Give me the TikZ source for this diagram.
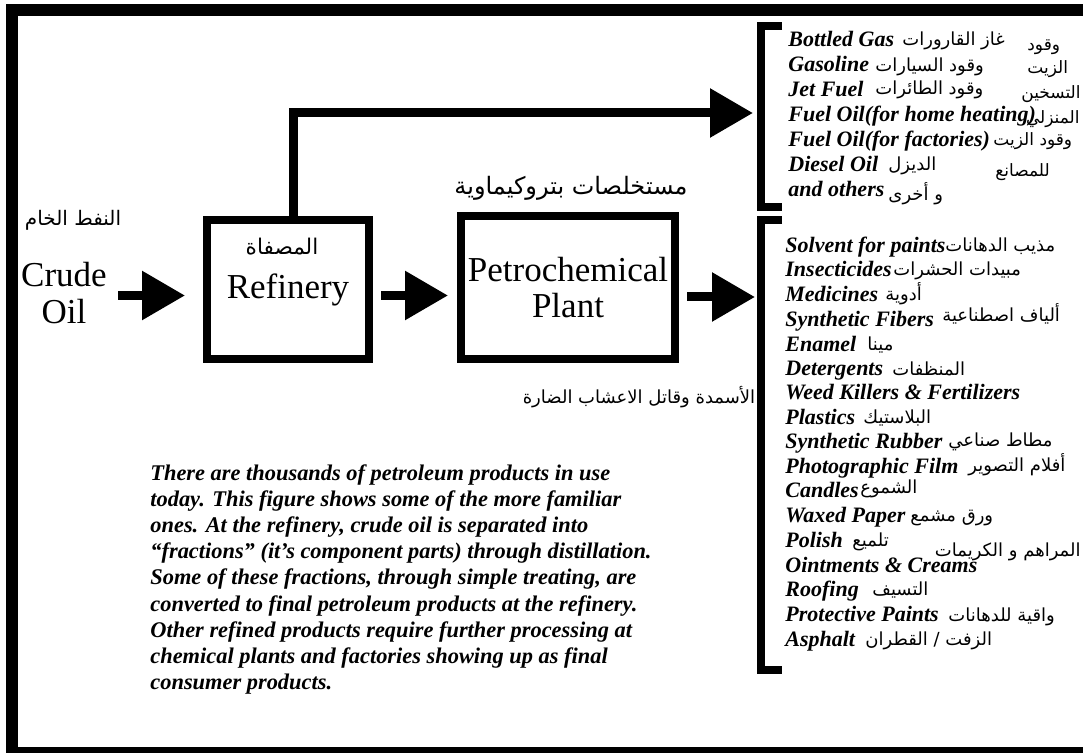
\documentclass[tikz,border=0pt]{standalone}
\usepackage{fontspec}
\setmainfont{Liberation Serif}
\newfontfamily\arabicfont[Script=Arabic]{DejaVu Sans}
\TeXXeTstate=1
\usetikzlibrary{arrows.meta,positioning,calc}
\newcommand{\artxt}[1]{{\arabicfont\beginR #1\endR}}

\begin{document}
\begin{tikzpicture}[x=0.5pt,y=-0.5pt,
  box/.style={draw,line width=4pt,inner sep=0pt,align=center,font=\fontsize{17.5}{18}\selectfont},
  big/.style={align=center,inner sep=0pt,font=\fontsize{17.5}{18.5}\selectfont},
  artag/.style={inner sep=0pt,font=\fontsize{12}{14}\selectfont},
  aritem/.style={inner sep=0pt,anchor=base west,yshift=-2pt,font=\fontsize{9}{10}\selectfont},
  item/.style={inner sep=0pt,anchor=base west,yshift=-2.5pt,font=\bfseries\itshape\fontsize{11}{12}\selectfont},
  fat/.style={line width=4.5pt,-{Triangle[length=21.5pt,width=23.5pt]}},
  brack/.style={line width=4pt,line cap=butt,line join=miter}]
  \useasboundingbox (0,0) rectangle (1083,753);
  % outer frame
  \draw[line width=6pt] (12,10.5) rectangle (1089,753);
  % process chain
  \node[big] (crude) at (64,293.5) {Crude\\Oil};
  \node[artag,font=\fontsize{10}{12}\selectfont] (crudear) at (73,220) {\artxt{النفط الخام}};
  \node[box,minimum width=81pt,minimum height=69.5pt] (refinery) at (288,289.5) {Refinery};
  \node[artag,font=\fontsize{10.8}{12}\selectfont] (refar) at (282,247) {\artxt{المصفاة}};
  \node[box,minimum width=107pt,minimum height=71.5pt] (petro) at (568,287.5) {Petrochemical\\Plant};
  \node[artag] (petroar) at (571,188) {\artxt{مستخلصات بتروكيماوية}};
  \node[artag,font=\fontsize{9}{10}\selectfont] (fertar) at (639,397) {\artxt{الأسمدة وقاتل الاعشاب الضارة}};
  % brackets round the two product lists
  \draw[brack] (782,26) -| (761,207.5) -- (782,207.5);
  \coordinate (fuels) at (757,113);
  \draw[brack] (782,220) -| (761,670) -- (782,670);
  \coordinate (chems) at (757,297);
  % flow arrows
  \draw[fat,shorten <=5.5pt,shorten >=9pt] ([yshift=-1pt]crude.east) -- ([yshift=-1pt]crude.east -| refinery.west);
  \draw[fat,shorten <=4pt,shorten >=4.5pt] ([yshift=-3pt]refinery.east) -- ([yshift=-3pt]refinery.east -| petro.west);
  \draw[fat,shorten <=4pt,shorten >=1pt] (chems -| petro.east) -- (chems);
  \draw[fat,line join=miter,shorten >=2pt] ([xshift=2.5pt]refinery.north) |- (fuels);
  % fuels from the refinery
  \node[item] (gas) at (788,42) {Bottled Gas};
  \node[item] (gasoline) at (788,67) {Gasoline};
  \node[item] (jet) at (788,92) {Jet Fuel};
  \node[item] (fuelhome) at (788,117) {Fuel Oil(for home heating)};
  \node[item] (fuelfact) at (788,142) {Fuel Oil(for factories)};
  \node[item] (diesel) at (788,167) {Diesel Oil};
  \node[item] (others) at (788,192) {and others};
  \node[aritem] (gasar) at (902,42) {\artxt{غاز القارورات}};
  \node[aritem] (gasolinear) at (875,68) {\artxt{وقود السيارات}};
  \node[aritem] (jetar) at (875,91) {\artxt{وقود الطائرات}};
  \node[aritem] (dieselar) at (888,167) {\artxt{الديزل}};
  \node[aritem] (othersar) at (888,197) {\artxt{و أخرى}};
  \node[aritem,font=\fontsize{8.5}{10}\selectfont] (homear1) at (1027,47) {\artxt{وقود}};
  \node[aritem,font=\fontsize{8.5}{10}\selectfont] (homear2) at (1027,70) {\artxt{الزيت}};
  \node[aritem,anchor=base east,font=\fontsize{8.5}{10}\selectfont] (homear3) at (1081,95) {\artxt{التسخين}};
  \node[aritem,anchor=base east,font=\fontsize{8.5}{10}\selectfont] (homear4) at (1080,120) {\artxt{المنزلي}};
  \node[aritem,font=\fontsize{8.5}{10}\selectfont] (factar1) at (993,142) {\artxt{وقود الزيت}};
  \node[aritem,font=\fontsize{8.5}{10}\selectfont] (factar2) at (995,173) {\artxt{للمصانع}};
  % petrochemical products
  \node[item] (solvent) at (785,248) {Solvent for paints};
  \node[item] (insect) at (785,272) {Insecticides};
  \node[item] (medic) at (785,297) {Medicines};
  \node[item] (fibers) at (785,322) {Synthetic Fibers};
  \node[item] (enamel) at (785,347) {Enamel};
  \node[item] (deterg) at (785,371) {Detergents};
  \node[item] (weed) at (785,395) {Weed Killers \& Fertilizers};
  \node[item] (plastic) at (785,420) {Plastics};
  \node[item] (rubber) at (785,444) {Synthetic Rubber};
  \node[item] (photo) at (785,469) {Photographic Film};
  \node[item] (candle) at (785,493) {Candles};
  \node[item] (waxed) at (785,518) {Waxed Paper};
  \node[item] (polish) at (785,543) {Polish};
  \node[item] (oint) at (785,568) {Ointments \& Creams};
  \node[item] (roof) at (785,592) {Roofing};
  \node[item] (protect) at (785,617) {Protective Paints};
  \node[item] (asphalt) at (785,642) {Asphalt};
  \node[aritem] (solventar) at (945,248) {\artxt{مذيب الدهانات}};
  \node[aritem] (insectar) at (893,272) {\artxt{مبيدات الحشرات}};
  \node[aritem] (medicar) at (885,297) {\artxt{أدوية}};
  \node[aritem] (fibersar) at (942,318) {\artxt{ألياف اصطناعية}};
  \node[aritem] (enamelar) at (867,347) {\artxt{مينا}};
  \node[aritem] (detergar) at (892,372) {\artxt{المنظفات}};
  \node[aritem] (plasticar) at (863,420) {\artxt{البلاستيك}};
  \node[aritem] (rubberar) at (948,443) {\artxt{مطاط صناعي}};
  \node[aritem] (photoar) at (968,468) {\artxt{أفلام التصوير}};
  \node[aritem] (candlear) at (860,490) {\artxt{الشموع}};
  \node[aritem] (waxedar) at (910,518) {\artxt{ورق مشمع}};
  \node[aritem] (polishar) at (852,543) {\artxt{تلميع}};
  \node[aritem,anchor=base east] (ointar) at (1081,553) {\artxt{المراهم و الكريمات}};
  \node[aritem] (roofar) at (872,592) {\artxt{التسيف}};
  \node[aritem] (protectar) at (948,618) {\artxt{واقية للدهانات}};
  \node[aritem] (asphaltar) at (865,642) {\artxt{الزفت / القطران}};
  % explanatory note
  \node[anchor=north west,inner sep=0pt,align=left,font=\bfseries\itshape\fontsize{11.2}{13.1}\selectfont] (note) at (150,464)
    {There are thousands of petroleum products in use\\
     today.  This figure shows some of the more familiar\\
     ones.  At the refinery, crude oil is separated into\\
     “fractions” (it’s component parts) through distillation.\\
     Some of these fractions, through simple treating, are\\
     converted to final petroleum products at the refinery.\\
     Other refined products require further processing at\\
     chemical plants and factories showing up as final\\
     consumer products.};
\end{tikzpicture}
\end{document}
